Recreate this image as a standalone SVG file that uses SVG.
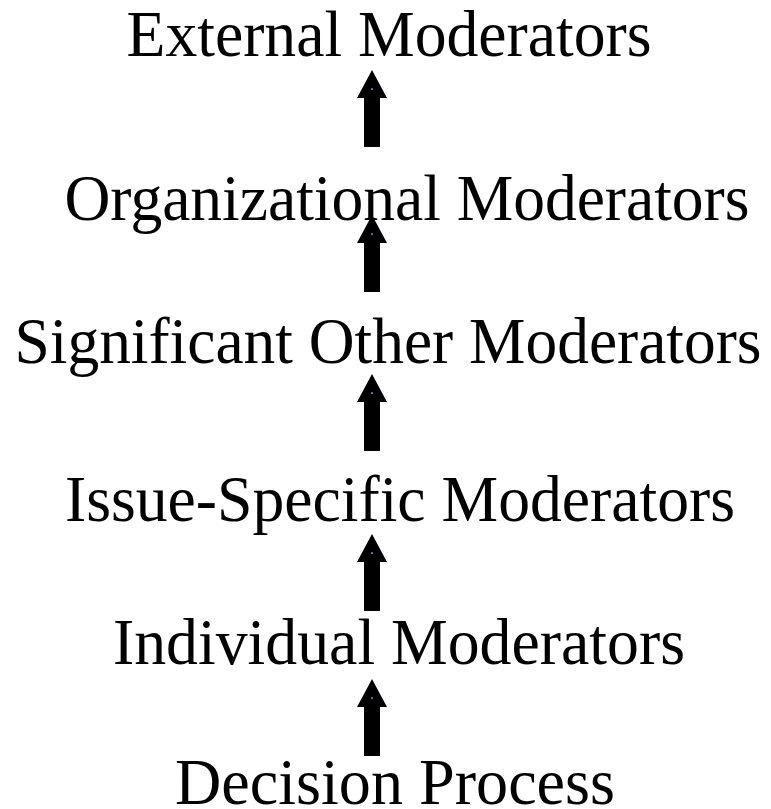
<svg xmlns="http://www.w3.org/2000/svg" width="771" height="809" viewBox="0 0 771 809">
  <style>
    .lbl { font-family: "Liberation Serif", "Times New Roman", serif; font-size: 66px; fill: #000; text-anchor: middle; }
    .arw { fill: #000; }
    .dot { fill: #4a72b0; }
  </style>
  <defs>
    <!-- block arrow pointing up; tip at (0,0) -->
    <g id="up">
      <polygon class="arw" points="0,0 15,28 8,28 8,77 -8,77 -8,28 -15,28"/>
      <rect class="dot" x="-1" y="18" width="2" height="2"/>
    </g>
  </defs>
  <rect width="771" height="809" fill="#fff"/>

  <g id="connectors">
    <use href="#up" x="372" y="70"/>
    <use href="#up" x="372" y="215"/>
    <use href="#up" x="372" y="374"/>
    <use href="#up" x="372" y="534"/>
    <use href="#up" x="372" y="679"/>
  </g>

  <g id="external"><text class="lbl" x="389" y="56" textLength="525" lengthAdjust="spacingAndGlyphs">External Moderators</text></g>
  <g id="organizational"><text class="lbl" x="407" y="220" textLength="685" lengthAdjust="spacingAndGlyphs">Organizational Moderators</text></g>
  <g id="significant-other"><text class="lbl" x="388" y="363" textLength="747" lengthAdjust="spacingAndGlyphs">Significant Other Moderators</text></g>
  <g id="issue-specific"><text class="lbl" x="400" y="521" textLength="670" lengthAdjust="spacingAndGlyphs">Issue-Specific Moderators</text></g>
  <g id="individual"><text class="lbl" x="399" y="664" textLength="572" lengthAdjust="spacingAndGlyphs">Individual Moderators</text></g>
  <g id="decision"><text class="lbl" x="395" y="804" textLength="440" lengthAdjust="spacingAndGlyphs">Decision Process</text></g>
</svg>
